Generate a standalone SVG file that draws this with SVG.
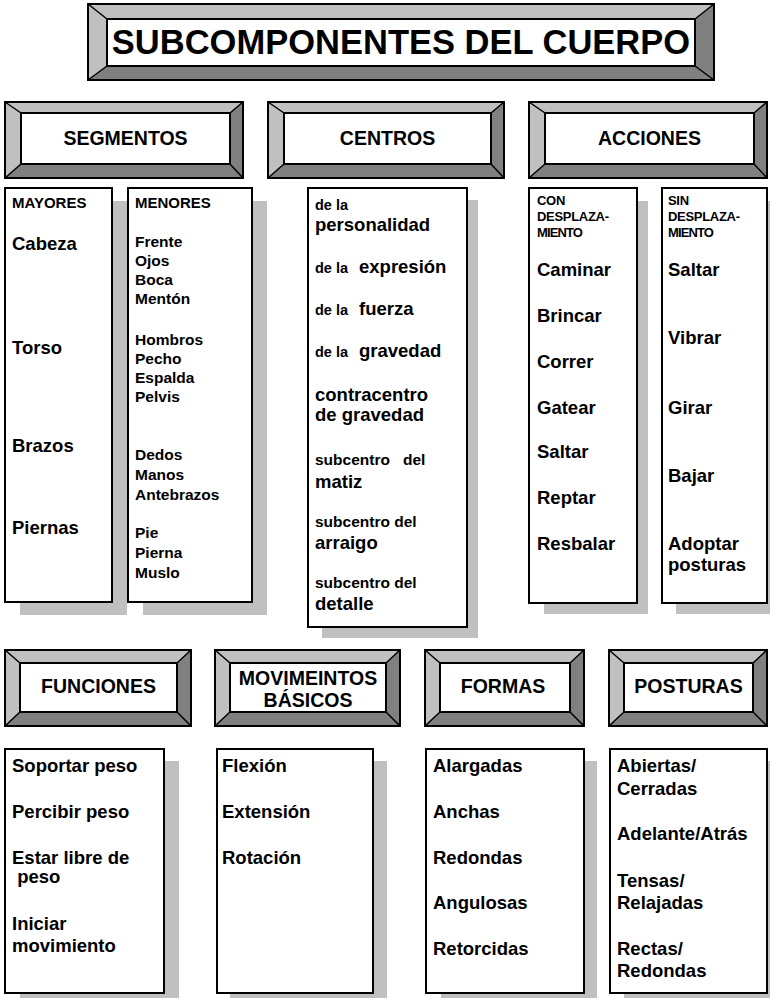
<svg xmlns="http://www.w3.org/2000/svg" width="770" height="998" viewBox="0 0 770 998">
<style>
text{font-family:"Liberation Sans",Arial,sans-serif;font-weight:bold;fill:#000}
.bl{fill:#c0c0c0}
.bd{fill:#808080}
.ol{fill:none;stroke:#000;stroke-width:2}
.dg{fill:none;stroke:#000;stroke-width:1.5}
.face{fill:#fff;stroke:#000;stroke-width:2}
.sh{fill:#c0c0c0}
.box{fill:#fff;stroke:#000;stroke-width:2}
.hd{font-size:19.5px;text-anchor:middle}
.it{font-size:18.5px}
.mi{font-size:15.5px}
.lb{font-size:15px}
.sm{font-size:14.5px}
.ss{font-size:15.5px}
.cn{font-size:13px;letter-spacing:-0.3px}
</style>

<g id="title">
<rect class="bl" x="88" y="4" width="626" height="76"/>
<polygon class="bd" points="714,4 714,80 695,66 695,19"/>
<polygon class="bd" points="88,80 714,80 695,66 107,66"/>
<path class="dg" d="M88,4L107,19M714,4L695,19M88,80L107,66M714,80L695,66"/>
<rect class="face" x="107" y="19" width="588" height="47"/>
<rect class="ol" x="88" y="4" width="626" height="76"/>
<text x="401" y="54" style="font-size:34.5px;text-anchor:middle">SUBCOMPONENTES DEL CUERPO</text>
</g>

<g id="h-segmentos">
<rect class="bl" x="5" y="102" width="238" height="76"/>
<polygon class="bd" points="243,102 243,178 230,164 230,113"/>
<polygon class="bd" points="5,178 243,178 230,164 21,164"/>
<path class="dg" d="M5,102L21,113M243,102L230,113M5,178L21,164M243,178L230,164"/>
<rect class="face" x="21" y="113" width="209" height="51"/>
<rect class="ol" x="5" y="102" width="238" height="76"/>
<text class="hd" x="125.5" y="145">SEGMENTOS</text>
</g>

<g id="h-centros">
<rect class="bl" x="268" y="102" width="236" height="76"/>
<polygon class="bd" points="504,102 504,178 491,164 491,113"/>
<polygon class="bd" points="268,178 504,178 491,164 284,164"/>
<path class="dg" d="M268,102L284,113M504,102L491,113M268,178L284,164M504,178L491,164"/>
<rect class="face" x="284" y="113" width="207" height="51"/>
<rect class="ol" x="268" y="102" width="236" height="76"/>
<text class="hd" x="387.5" y="145">CENTROS</text>
</g>

<g id="h-acciones">
<rect class="bl" x="529" y="102" width="238" height="76"/>
<polygon class="bd" points="767,102 767,178 754,164 754,113"/>
<polygon class="bd" points="529,178 767,178 754,164 545,164"/>
<path class="dg" d="M529,102L545,113M767,102L754,113M529,178L545,164M767,178L754,164"/>
<rect class="face" x="545" y="113" width="209" height="51"/>
<rect class="ol" x="529" y="102" width="238" height="76"/>
<text class="hd" x="649.5" y="145">ACCIONES</text>
</g>

<g id="l-mayores">
<rect class="sh" x="20" y="201" width="107" height="414"/>
<rect class="box" x="5" y="188" width="107" height="414"/>
<text class="lb" x="12" y="208">MAYORES</text>
<text class="it" x="12" y="249.5">Cabeza</text>
<text class="it" x="12" y="353.5">Torso</text>
<text class="it" x="12" y="451.5">Brazos</text>
<text class="it" x="12" y="533.5">Piernas</text>
</g>

<g id="l-menores">
<rect class="sh" x="143" y="201" width="124" height="414"/>
<rect class="box" x="128" y="188" width="124" height="414"/>
<text class="lb" x="135" y="208">MENORES</text>
<text class="mi" x="135" y="247">Frente</text>
<text class="mi" x="135" y="266">Ojos</text>
<text class="mi" x="135" y="285">Boca</text>
<text class="mi" x="135" y="304">Mentón</text>
<text class="mi" x="135" y="345">Hombros</text>
<text class="mi" x="135" y="364">Pecho</text>
<text class="mi" x="135" y="383">Espalda</text>
<text class="mi" x="135" y="402">Pelvis</text>
<text class="mi" x="135" y="460">Dedos</text>
<text class="mi" x="135" y="480">Manos</text>
<text class="mi" x="135" y="500">Antebrazos</text>
<text class="mi" x="135" y="538">Pie</text>
<text class="mi" x="135" y="558">Pierna</text>
<text class="mi" x="135" y="578">Muslo</text>
</g>

<g id="l-centros">
<rect class="sh" x="322" y="200" width="156" height="438"/>
<rect class="box" x="308" y="188" width="159" height="439"/>
<text class="sm" x="315" y="210">de la</text>
<text class="it" x="315" y="231">personalidad</text>
<text class="sm" x="315" y="273">de la</text>
<text class="it" x="359" y="273">expresión</text>
<text class="sm" x="315" y="315">de la</text>
<text class="it" x="359" y="315">fuerza</text>
<text class="sm" x="315" y="357">de la</text>
<text class="it" x="359" y="357">gravedad</text>
<text class="it" x="315" y="401">contracentro</text>
<text class="it" x="315" y="421">de gravedad</text>
<text class="ss" x="315" y="465">subcentro</text>
<text class="ss" x="403" y="465">del</text>
<text class="it" x="315" y="488">matiz</text>
<text class="ss" x="315" y="527">subcentro del</text>
<text class="it" x="315" y="549">arraigo</text>
<text class="ss" x="315" y="588">subcentro del</text>
<text class="it" x="315" y="610">detalle</text>
</g>

<g id="l-con">
<rect class="sh" x="544" y="201" width="104" height="413"/>
<rect class="box" x="529" y="188" width="108" height="415"/>
<text class="cn" x="537" y="205">CON</text>
<text class="cn" x="537" y="221">DESPLAZA-</text>
<text class="cn" x="537" y="237" style="letter-spacing:-0.9px">MIENTO</text>
<text class="it" x="537" y="275.5">Caminar</text>
<text class="it" x="537" y="321.5">Brincar</text>
<text class="it" x="537" y="367.5">Correr</text>
<text class="it" x="537" y="413.5">Gatear</text>
<text class="it" x="537" y="458">Saltar</text>
<text class="it" x="537" y="504">Reptar</text>
<text class="it" x="537" y="550">Resbalar</text>
</g>

<g id="l-sin">
<rect class="sh" x="676" y="201" width="100" height="413"/>
<rect class="box" x="662" y="188" width="105" height="415"/>
<text class="cn" x="668" y="205">SIN</text>
<text class="cn" x="668" y="221">DESPLAZA-</text>
<text class="cn" x="668" y="237" style="letter-spacing:-0.9px">MIENTO</text>
<text class="it" x="668" y="275.5">Saltar</text>
<text class="it" x="668" y="343.5">Vibrar</text>
<text class="it" x="668" y="413.5">Girar</text>
<text class="it" x="668" y="481.5">Bajar</text>
<text class="it" x="668" y="549.5">Adoptar</text>
<text class="it" x="668" y="571">posturas</text>
</g>

<g id="h-funciones">
<rect class="bl" x="5" y="650" width="186" height="76"/>
<polygon class="bd" points="191,650 191,726 177,712 177,663"/>
<polygon class="bd" points="5,726 191,726 177,712 20,712"/>
<path class="dg" d="M5,650L20,663M191,650L177,663M5,726L20,712M191,726L177,712"/>
<rect class="face" x="20" y="663" width="157" height="49"/>
<rect class="ol" x="5" y="650" width="186" height="76"/>
<text class="hd" x="98.5" y="693">FUNCIONES</text>
</g>

<g id="h-movimientos">
<rect class="bl" x="215" y="650" width="185" height="76"/>
<polygon class="bd" points="400,650 400,726 386,712 386,663"/>
<polygon class="bd" points="215,726 400,726 386,712 230,712"/>
<path class="dg" d="M215,650L230,663M400,650L386,663M215,726L230,712M400,726L386,712"/>
<rect class="face" x="230" y="663" width="156" height="49"/>
<rect class="ol" x="215" y="650" width="185" height="76"/>
<text class="hd" x="308" y="685">MOVIMEINTOS</text>
<text class="hd" x="308" y="707">BÁSICOS</text>
</g>

<g id="h-formas">
<rect class="bl" x="425" y="650" width="159" height="76"/>
<polygon class="bd" points="584,650 584,726 570,712 570,663"/>
<polygon class="bd" points="425,726 584,726 570,712 440,712"/>
<path class="dg" d="M425,650L440,663M584,650L570,663M425,726L440,712M584,726L570,712"/>
<rect class="face" x="440" y="663" width="130" height="49"/>
<rect class="ol" x="425" y="650" width="159" height="76"/>
<text class="hd" x="503" y="693">FORMAS</text>
</g>

<g id="h-posturas">
<rect class="bl" x="609" y="650" width="158" height="76"/>
<polygon class="bd" points="767,650 767,726 753,712 753,663"/>
<polygon class="bd" points="609,726 767,726 753,712 624,712"/>
<path class="dg" d="M609,650L624,663M767,650L753,663M609,726L624,712M767,726L753,712"/>
<rect class="face" x="624" y="663" width="129" height="49"/>
<rect class="ol" x="609" y="650" width="158" height="76"/>
<text class="hd" x="688.5" y="693">POSTURAS</text>
</g>

<g id="l-funciones">
<rect class="sh" x="20" y="761" width="159" height="240"/>
<rect class="box" x="5" y="749" width="159" height="244"/>
<text class="it" x="12" y="771.5">Soportar peso</text>
<text class="it" x="12" y="817.5">Percibir peso</text>
<text class="it" x="12" y="863.5">Estar libre de</text>
<text class="it" x="12" y="883" xml:space="preserve"> peso</text>
<text class="it" x="12" y="929.5">Iniciar</text>
<text class="it" x="12" y="951.5">movimiento</text>
</g>

<g id="l-movimientos">
<rect class="sh" x="230" y="761" width="157" height="240"/>
<rect class="box" x="217" y="749" width="156" height="244"/>
<text class="it" x="222" y="771.5">Flexión</text>
<text class="it" x="222" y="817.5">Extensión</text>
<text class="it" x="222" y="863.5">Rotación</text>
</g>

<g id="l-formas">
<rect class="sh" x="441" y="761" width="156" height="240"/>
<rect class="box" x="426" y="749" width="158" height="244"/>
<text class="it" x="433" y="771.5">Alargadas</text>
<text class="it" x="433" y="817.5">Anchas</text>
<text class="it" x="433" y="863.5">Redondas</text>
<text class="it" x="433" y="908.5">Angulosas</text>
<text class="it" x="433" y="954.5">Retorcidas</text>
</g>

<g id="l-posturas">
<rect class="sh" x="624" y="761" width="156" height="240"/>
<rect class="box" x="610" y="749" width="157" height="244"/>
<text class="it" x="617" y="771.5">Abiertas/</text>
<text class="it" x="617" y="795">Cerradas</text>
<text class="it" x="617" y="839.5">Adelante/Atrás</text>
<text class="it" x="617" y="886.5">Tensas/</text>
<text class="it" x="617" y="908.5">Relajadas</text>
<text class="it" x="617" y="954.5">Rectas/</text>
<text class="it" x="617" y="976.5">Redondas</text>
</g>

<g id="connectors"></g>
</svg>
